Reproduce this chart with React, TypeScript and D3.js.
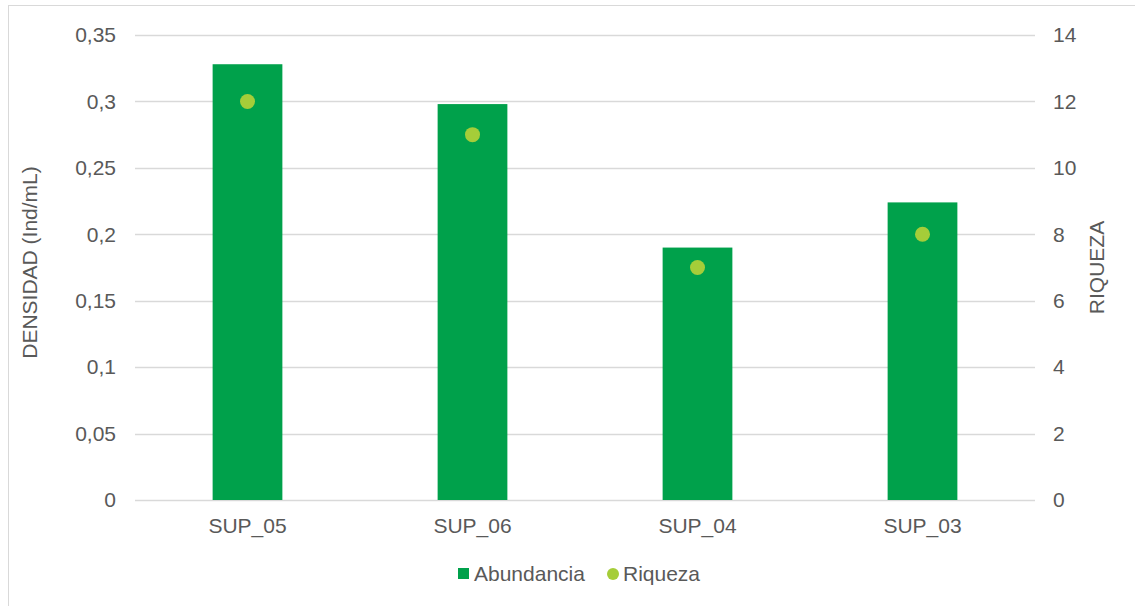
import React from "react";
import * as d3 from "d3";

const categories = ["SUP_05", "SUP_06", "SUP_04", "SUP_03"];
const abundancia = [0.328, 0.298, 0.19, 0.224];
const riqueza = [12, 11, 7, 8];
const leftTicks = [0, 0.05, 0.1, 0.15, 0.2, 0.25, 0.3, 0.35];
const rightTicks = [0, 2, 4, 6, 8, 10, 12, 14];

const W = 1135;
const H = 606;
const M = { left: 135, right: 1035, top: 35, bottom: 500 };
const FONT = "'Liberation Sans', Arial, sans-serif";
const TXT = "#595959";
const BAR = "#00A14B";
const DOT = "#A5CD39";

const fmt = (v: number) => String(v).replace(".", ",");

export default function App() {
  const x = d3.scaleBand<string>().domain(categories).range([M.left, M.right]).paddingInner(0.69).paddingOuter(0.345);
  const yL = d3.scaleLinear().domain([0, 0.35]).range([M.bottom, M.top]);
  const yR = d3.scaleLinear().domain([0, 14]).range([M.bottom, M.top]);
  const cx = (c: string) => (x(c) ?? 0) + x.bandwidth() / 2;
  const midY = (M.top + M.bottom) / 2;

  return (
    <svg width={W} height={H} style={{ position: "absolute", left: 0, top: 0, background: "#fff" }}>
      <rect x={8.5} y={5.5} width={W + 10} height={H + 10} fill="#fff" stroke="#d9d9d9" strokeWidth={1} />
      {leftTicks.map((t) => (
        <line key={"g" + t} x1={M.left} x2={M.right} y1={Math.round(yL(t)) + 0.5} y2={Math.round(yL(t)) + 0.5} stroke="#d9d9d9" strokeWidth={1.5} />
      ))}
      {categories.map((c, i) => (
        <rect key={"b" + c} x={x(c)} width={x.bandwidth()} y={yL(abundancia[i])} height={yL(0) - yL(abundancia[i])} fill={BAR} />
      ))}
      {categories.map((c, i) => (
        <circle key={"d" + c} cx={cx(c)} cy={yR(riqueza[i])} r={7.5} fill={DOT} />
      ))}
      <g fontFamily={FONT} fontSize={21} fill={TXT}>
        {leftTicks.map((t) => (
          <text key={"l" + t} x={116} y={yL(t)} dy="0.35em" textAnchor="end">{fmt(t)}</text>
        ))}
        {rightTicks.map((t) => (
          <text key={"r" + t} x={1053} y={yR(t)} dy="0.35em" textAnchor="start">{t}</text>
        ))}
        {categories.map((c) => (
          <text key={"x" + c} x={cx(c)} y={533} textAnchor="middle">{c}</text>
        ))}
        <text transform={`translate(37,${midY - 5}) rotate(-90)`} textAnchor="middle">DENSIDAD (Ind/mL)</text>
        <text transform={`translate(1104,${midY}) rotate(-90)`} textAnchor="middle">RIQUEZA</text>
        <rect x={458} y={568} width={11} height={11} fill={BAR} />
        <text x={474} y={581}>Abundancia</text>
        <circle cx={613} cy={574} r={6} fill={DOT} />
        <text x={623} y={581}>Riqueza</text>
      </g>
    </svg>
  );
}
